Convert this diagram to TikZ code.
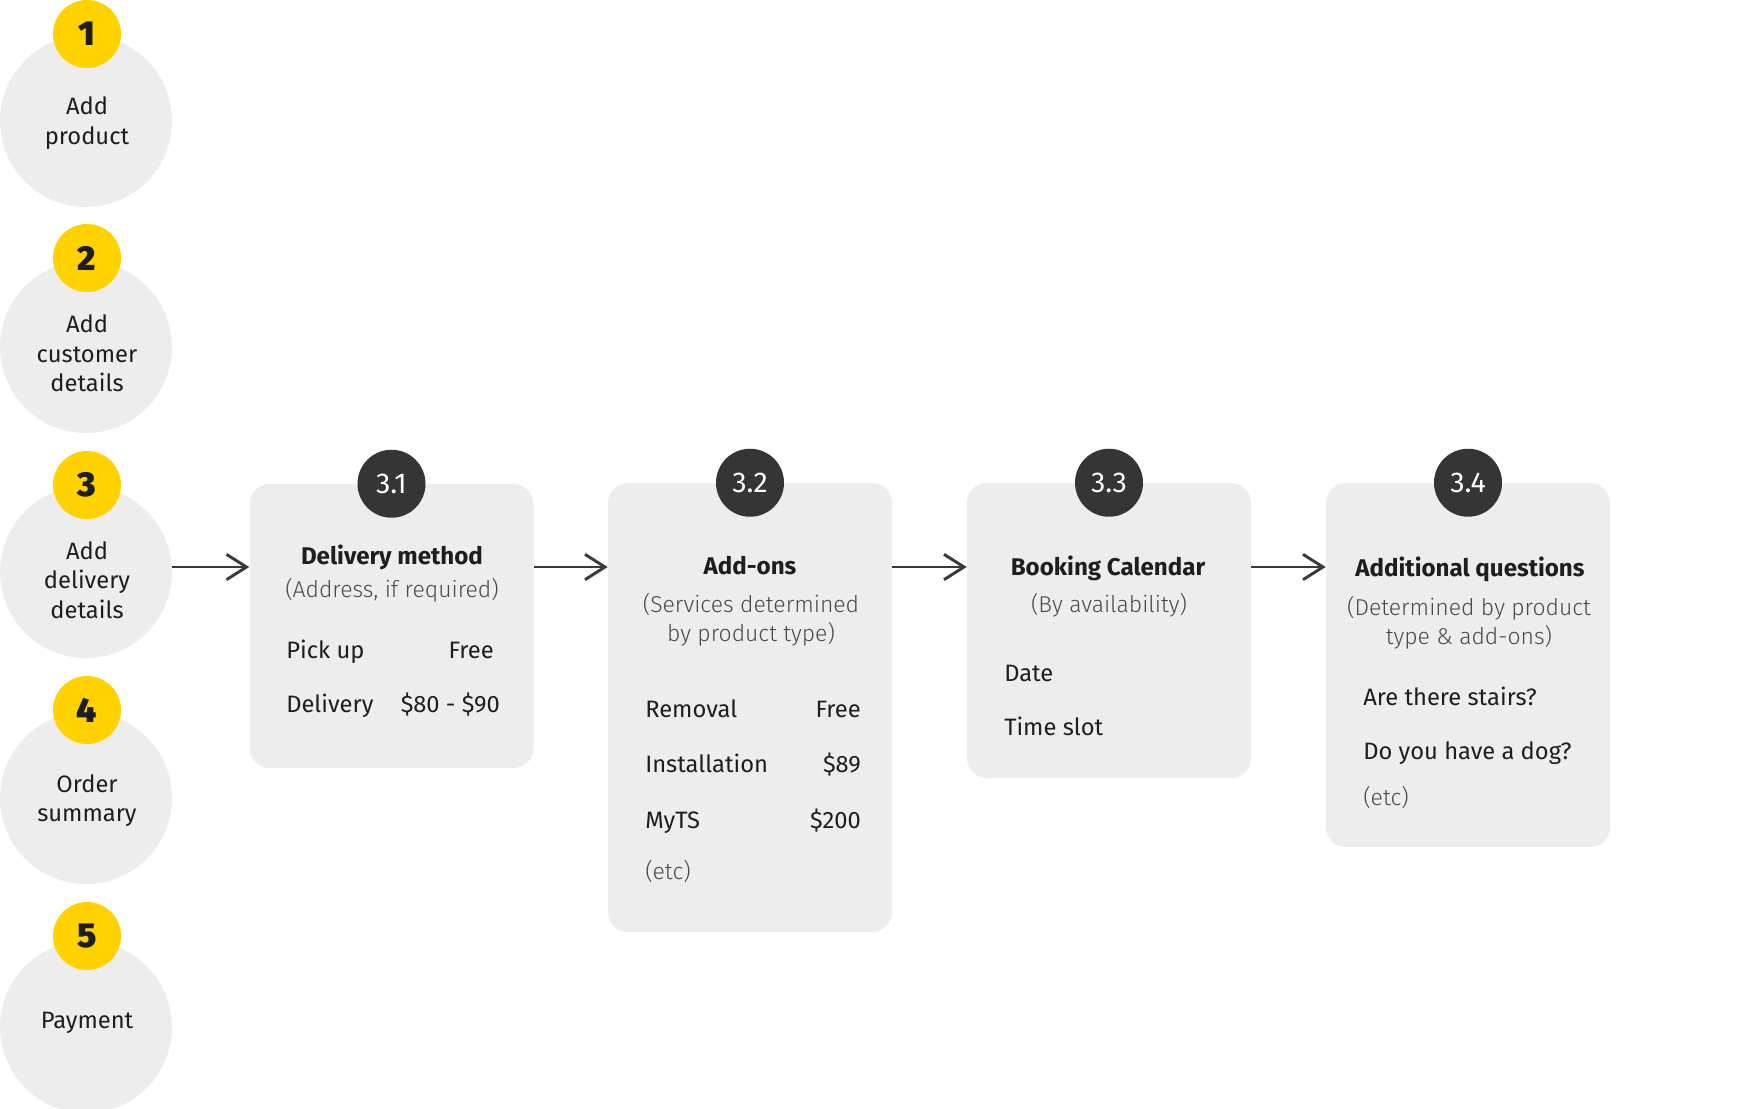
\documentclass[tikz,border=0pt]{standalone}
\usepackage{fontspec}
\setmainfont{Fira Sans}
\newfontfamily\flight{Fira Sans Light}
\newfontfamily\fbold{Fira Sans Bold}
\newfontfamily\fheavy{Fira Sans Black}
\usetikzlibrary{arrows.meta}
\definecolor{cgrey}{HTML}{EDEDED}
\definecolor{cyellow}{HTML}{FFD200}
\definecolor{cdark}{HTML}{353535}
\definecolor{ctext}{HTML}{1E1E1E}
\definecolor{csub}{HTML}{4A4A4A}
\definecolor{carrow}{HTML}{3A3A3A}
\begin{document}
\begin{tikzpicture}[x=0.75pt,y=-0.75pt,
  bigc/.style={circle,fill=cgrey,minimum size=129pt,inner sep=0pt},
  yel/.style={circle,fill=cyellow,minimum size=51pt,inner sep=0pt,text=ctext,font=\fheavy\fontsize{26}{26}\selectfont},
  dark/.style={circle,fill=cdark,minimum size=51pt,inner sep=0pt,text=white,font=\fontsize{21.5}{22}\selectfont},
  stepbox/.style={rectangle,rounded corners=15pt,fill=cgrey,minimum width=213pt,inner sep=0pt},
  lbl/.style={inner sep=0pt,anchor=base,text=ctext,font=\fontsize{17.8}{20}\selectfont},
  ttl/.style={inner sep=0pt,anchor=base,text=ctext,font=\fbold\fontsize{18.1}{20}\selectfont},
  sub/.style={inner sep=0pt,anchor=base,text=csub,font=\flight\fontsize{17.2}{20}\selectfont},
  row/.style={inner sep=0pt,anchor=base west,text=ctext,font=\fontsize{17.8}{20}\selectfont},
  val/.style={inner sep=0pt,anchor=base east,text=ctext,font=\fontsize{17.8}{20}\selectfont},
  etc/.style={inner sep=0pt,anchor=base west,text=csub,font=\flight\fontsize{17.2}{20}\selectfont},
  arr/.style={draw=carrow,line width=2.2pt,-{Straight Barb[length=15pt,width=19pt,line width=2.2pt]}}
]
\useasboundingbox (0,0) rectangle (1744,1108);

% left column of steps
\node[bigc] (c1) at (86,121) {};
\node[yel] (y1) at (87,34) {1};
\node[lbl] (c1a) at (87,114) {Add};
\node[lbl] (c1b) at (87,144) {product};

\node[bigc] (c2) at (86,347) {};
\node[yel] (y2) at (87,258) {2};
\node[lbl] (c2a) at (87,332) {Add};
\node[lbl] (c2b) at (87,362) {customer};
\node[lbl] (c2c) at (87,391) {details};

\node[bigc] (c3) at (86,572) {};
\node[yel] (y3) at (87,485) {3};
\node[lbl] (c3a) at (87,559) {Add};
\node[lbl] (c3b) at (87,588) {delivery};
\node[lbl] (c3c) at (87,618) {details};

\node[bigc] (c4) at (86,798) {};
\node[yel] (y4) at (87,710) {4};
\node[lbl] (c4a) at (87,792) {Order};
\node[lbl] (c4b) at (87,821) {summary};

\node[bigc] (c5) at (86,1027) {};
\node[yel] (y5) at (87,936) {5};
\node[lbl] (c5a) at (87,1028) {Payment};

% step boxes
\node[stepbox,minimum height=213pt] (b1) at (391.5,626) {};
\node[stepbox,minimum height=336.75pt] (b2) at (750,707.5) {};
\node[stepbox,minimum height=221.25pt] (b3) at (1109,630.5) {};
\node[stepbox,minimum height=273pt] (b4) at (1468,665) {};

\node[dark] (d1) at (b1.north) {3.1};
\node[dark] (d2) at (b2.north) {3.2};
\node[dark] (d3) at (b3.north) {3.3};
\node[dark] (d4) at (b4.north) {3.4};

% box 3.1
\node[ttl] (t1) at (392,564) {Delivery method};
\node[sub] (s1) at (392,597) {(Address, if required)};
\node[row] (r1a) at (286,658) {Pick up};
\node[val] (v1a) at (494,658) {Free};
\node[row] (r1b) at (286,712) {Delivery};
\node[val] (v1b) at (500,712) {\$80 - \$90};

% box 3.2
\node[ttl] (t2) at (750,574) {Add-ons};
\node[sub] (s2a) at (751,612) {(Services determined};
\node[sub] (s2b) at (751,641) {by product type)};
\node[row] (r2a) at (645,717) {Removal};
\node[val] (v2a) at (861,717) {Free};
\node[row] (r2b) at (645,772) {Installation};
\node[val] (v2b) at (861,772) {\$89};
\node[row] (r2c) at (645,828) {MyTS};
\node[val] (v2c) at (861,828) {\$200};
\node[etc] (e2) at (645,879) {(etc)};

% box 3.3
\node[ttl] (t3) at (1108,575) {Booking Calendar};
\node[sub] (s3) at (1109,612) {(By availability)};
\node[row] (r3a) at (1004,681) {Date};
\node[row] (r3b) at (1004,735) {Time slot};

% box 3.4
\node[ttl] (t4) at (1470,576) {Additional questions};
\node[sub] (s4a) at (1469,615) {(Determined by product};
\node[sub] (s4b) at (1469,644) {type \& add-ons)};
\node[row] (r4a) at (1363,705) {Are there stairs?};
\node[row] (r4b) at (1363,759) {Do you have a dog?};
\node[etc] (e4) at (1363,805) {(etc)};

% connectors
\coordinate (ay) at (0,567);
\draw[arr] (c3.east |- ay) -- (b1.west |- ay);
\draw[arr] (b1.east |- ay) -- (b2.west |- ay);
\draw[arr] (b2.east |- ay) -- (b3.west |- ay);
\draw[arr] (b3.east |- ay) -- (b4.west |- ay);
\end{tikzpicture}
\end{document}
